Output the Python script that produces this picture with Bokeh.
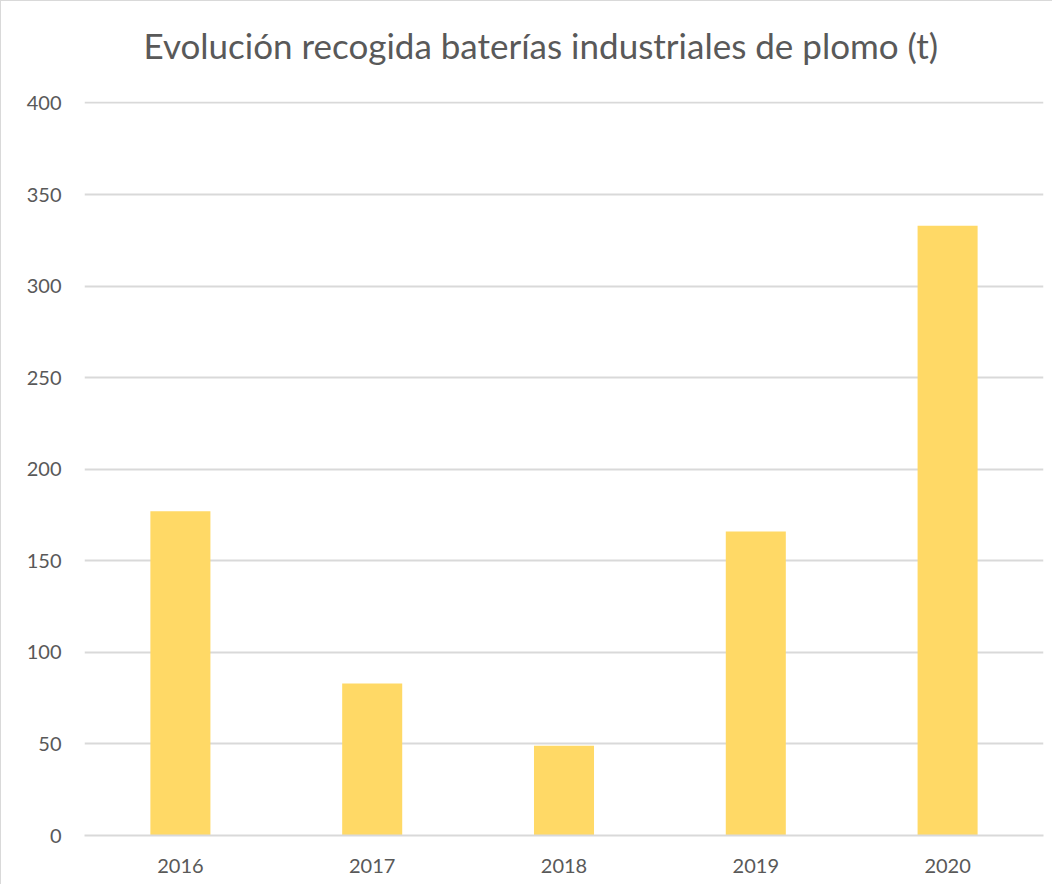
from bokeh.plotting import figure
from bokeh.models import FixedTicker, Range1d, FactorRange, ColumnDataSource, Title
from bokeh.embed import file_html
from bokeh.resources import INLINE

years = ["2016", "2017", "2018", "2019", "2020"]
values = [177, 83, 49, 166, 333]
y_ticks = [0, 50, 100, 150, 200, 250, 300, 350, 400]
title_text = "Evolución recogida baterías industriales de plomo (t)"

src = ColumnDataSource(dict(x=years, top=values))

p = figure(
    x_range=FactorRange(*years),
    y_range=Range1d(0, 400.8),
    width=1052, height=884,
    output_backend="svg", toolbar_location=None,
    min_border_left=83, min_border_right=10, min_border_top=100, min_border_bottom=50,
    styles={"border-left": "1px solid #d9d9d9", "border-top": "1px solid #d9d9d9"},
)
p.title.text = title_text
p.title.align = "left"
p.title.vertical_align = "top"
p.title.text_font = "Lato"
p.title.text_font_size = "35px"
p.title.text_font_style = "normal"
p.title.text_color = "#595959"
p.title.standoff = 30
p.title.offset = 59

# invisible spacer between the plot frame and the title
spacer = Title(text=" ", text_font_size="8px", standoff=8, text_color="white")
p.add_layout(spacer, "above")

p.vbar(x="x", top="top", width=0.313, source=src, fill_color="#FFD966", line_color=None)

p.outline_line_color = None
p.background_fill_color = "white"
p.border_fill_color = "white"

p.xgrid.grid_line_color = None
p.ygrid.grid_line_color = "#d9d9d9"
p.ygrid.grid_line_width = 1.8
p.yaxis.ticker = FixedTicker(ticks=y_ticks)

p.yaxis.axis_line_color = None
p.yaxis.major_tick_line_color = None
p.yaxis.major_tick_out = 0
p.yaxis.major_tick_in = 0
p.yaxis.minor_tick_line_color = None
p.yaxis.major_label_standoff = 23
p.yaxis.major_label_text_font = "Lato"
p.yaxis.major_label_text_font_size = "20px"
p.yaxis.major_label_text_color = "#595959"

p.xaxis.axis_line_color = "#d9d9d9"
p.xaxis.axis_line_width = 1.8
p.xaxis.major_tick_line_color = None
p.xaxis.major_tick_out = 0
p.xaxis.major_tick_in = 0
p.xaxis.minor_tick_line_color = None
p.xaxis.major_label_standoff = 23
p.xaxis.major_label_text_font = "Lato"
p.xaxis.major_label_text_font_size = "20px"
p.xaxis.major_label_text_color = "#595959"

open("out.html", "w").write(file_html(p, INLINE))
